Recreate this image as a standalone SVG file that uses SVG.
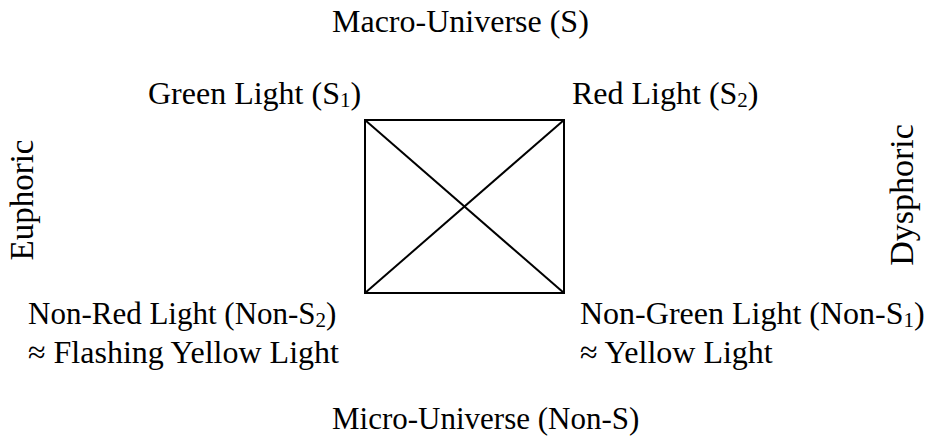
<svg xmlns="http://www.w3.org/2000/svg" width="926" height="441" viewBox="0 0 926 441">
<style>
text{font-family:'Liberation Serif','Times New Roman',Times,serif;font-size:32px;fill:#000}
.sub{font-size:21px}
.s31{font-size:31px}
.vert{font-size:33px;text-anchor:middle}
.box{fill:none;stroke:#000;stroke-width:2}
</style>
<rect width="926" height="441" fill="#fff"/>
<g id="square">
<rect class="box" x="365" y="120" width="199" height="173"/>
</g>
<g id="connectors">
<line class="box" x1="365" y1="120" x2="564" y2="293"/>
<line class="box" x1="564" y1="120" x2="365" y2="293"/>
</g>
<g id="macro"><text x="332" y="32">Macro-Universe (S)</text></g>
<g id="green"><text x="148" y="104">Green Light (S<tspan class="sub" dy="3">1</tspan><tspan dy="-3">)</tspan></text></g>
<g id="red"><text x="572" y="104">Red Light (S<tspan class="sub" dy="3">2</tspan><tspan dy="-3">)</tspan></text></g>
<g id="euphoric"><text class="vert" transform="translate(33,200) rotate(-90)">Euphoric</text></g>
<g id="dysphoric"><text class="vert" transform="translate(913,195) rotate(-90)" style="font-size:34px">Dysphoric</text></g>
<g id="nonred"><text class="s31" x="28" y="324">Non-Red Light (Non-S<tspan class="sub" dy="3">2</tspan><tspan dy="-3">)</tspan></text>
<text x="28" y="363">≈ Flashing Yellow Light</text></g>
<g id="nongreen"><text x="580" y="324">Non-Green Light (Non-S<tspan class="sub" dy="3">1</tspan><tspan dy="-3">)</tspan></text>
<text x="580" y="363">≈ Yellow Light</text></g>
<g id="micro"><text class="s31" x="332" y="429">Micro-Universe (Non-S)</text></g>
</svg>
